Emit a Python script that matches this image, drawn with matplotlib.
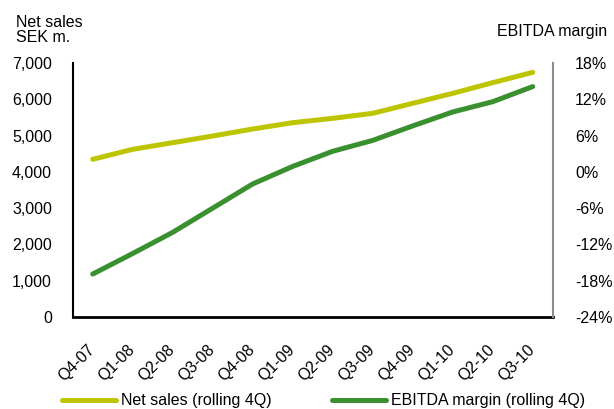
import matplotlib
matplotlib.use("Agg")
import matplotlib.pyplot as plt
from matplotlib.ticker import FixedLocator, FuncFormatter

plt.rcParams['font.family'] = ['Liberation Sans', 'DejaVu Sans']

quarters = ["Q4-07", "Q1-08", "Q2-08", "Q3-08", "Q4-08", "Q1-09",
            "Q2-09", "Q3-09", "Q4-09", "Q1-10", "Q2-10", "Q3-10"]
net_sales = [4346, 4621, 4804, 4988, 5181, 5355, 5475, 5613, 5889, 6164, 6458, 6743]
ebitda_margin = [-16.9, -13.5, -10.0, -6.0, -2.0, 0.9, 3.4, 5.2, 7.6, 9.9, 11.6, 14.1]
sales_ticks = [0, 1000, 2000, 3000, 4000, 5000, 6000, 7000]
margin_ticks = [-24, -18, -12, -6, 0, 6, 12, 18]

sales_color = "#BDC400"
margin_color = "#3A8F2E"
fs = 11.5

fig = plt.figure(figsize=(6.14, 4.09), dpi=100)
ax = fig.add_axes([72.7 / 614, 1 - 317 / 409, 480 / 614, 254 / 409])
ax2 = ax.twinx()

x = list(range(len(quarters)))
l1, = ax.plot(x, net_sales, color=sales_color, lw=3.6, solid_capstyle='round',
              label="Net sales (rolling 4Q)")
l2, = ax2.plot(x, ebitda_margin, color=margin_color, lw=3.6, solid_capstyle='round',
               label="EBITDA margin (rolling 4Q)")

ax.set_xlim(-0.5, len(quarters) - 0.5)
ax.set_ylim(0, 7000)
ax2.set_ylim(-24, 18)

ax.set_yticks(sales_ticks)
ax.yaxis.set_major_formatter(FuncFormatter(lambda v, p: f"{int(v):,}"))
ax.tick_params(axis='y', length=0, pad=15, labelsize=fs)

ax2.set_yticks(margin_ticks)
ax2.set_yticklabels([f"{t}%" for t in margin_ticks])
ax2.tick_params(axis='y', which='major', length=0, pad=16, labelsize=fs)
for lbl in ax2.get_yticklabels():
    lbl.set_horizontalalignment('left')
ax2.yaxis.set_minor_locator(FixedLocator([0]))
ax2.tick_params(axis='y', which='minor', length=6, width=1.5, color='black', direction='out')

ax.set_xticks(x)
ax.set_xticklabels(quarters, rotation=45, ha='right', va='center', rotation_mode='anchor')
ax.tick_params(axis='x', length=0, pad=22, labelsize=fs)

for a in (ax, ax2):
    a.spines['top'].set_visible(False)
ax.spines['left'].set_linewidth(1.5)
ax.spines['left'].set_color('black')
ax.spines['bottom'].set_linewidth(2)
ax.spines['right'].set_visible(False)
ax2.spines['left'].set_visible(False)
ax2.spines['bottom'].set_visible(False)
ax2.spines['right'].set_color('#8C8C8C')
ax2.spines['right'].set_linewidth(1.5)

fig.text(15.7 / 614, 1 - 15 / 409, "Net sales\nSEK m.", ha='left', va='top',
         fontsize=fs, linespacing=1.0)
fig.text(497 / 614, 1 - 35.7 / 409, "EBITDA margin", ha='left', va='baseline', fontsize=fs)

fig.legend(handles=[l1, l2], loc='center left', bbox_to_anchor=(61.7 / 614, 1 - 401 / 409),
           ncol=2, frameon=False, fontsize=fs, handlelength=3.4, handletextpad=0.3,
           columnspacing=3.8, borderpad=0, borderaxespad=0)

fig.savefig("out.png", dpi=100)
